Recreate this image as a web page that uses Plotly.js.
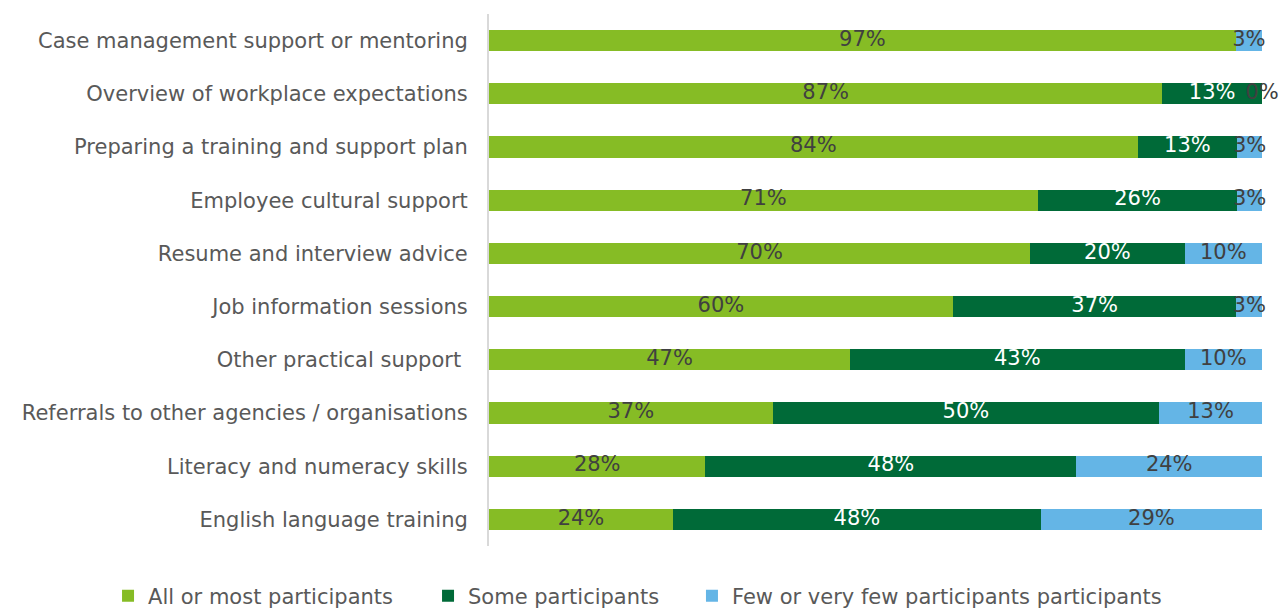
<!DOCTYPE html>
<html>
<head>
<meta charset="utf-8">
<script src="https://cdn.plot.ly/plotly-3.0.1.min.js"></script>
<style>html,body{margin:0;padding:0;background:#fff;}#chart{width:1280px;height:608px;}</style>
</head>
<body>
<div id="chart"></div>
<script>
const categories = [
  "Case management support or mentoring",
  "Overview of workplace expectations",
  "Preparing a training and support plan",
  "Employee cultural support",
  "Resume and interview advice",
  "Job information sessions",
  "Other practical support\u00a0",
  "Referrals to other agencies / organisations",
  "Literacy and numeracy skills",
  "English language training"
];
const seriesNames = ["All or most participants", "Some participants", "Few or very few participants participants"];
const allOrMost = [96.6, 87.1, 83.9, 71.0, 70.0, 60.0, 46.7, 36.7, 28.0, 23.8];
const some      = [0,    12.9, 12.9, 25.8, 20.0, 36.7, 43.3, 50.0, 48.0, 47.6];
const few       = [3.4,  0,    3.2,  3.2,  10.0, 3.3,  10.0, 13.3, 24.0, 28.6];
// labels shown for zero-valued segments (only the light-blue one shows "0%")
const showZeroLabel = [false, false, true];

const colors = ["#86BC25", "#006A38", "#64B5E6"];
const labelColors = ["#404040", "#FFFFFF", "#404040"];
const FONT = "DejaVu Sans, Verdana, sans-serif";
const FS = 21;

const series = [allOrMost, some, few];
const legendIds = ["legend", "legend2", "legend3"];
const traces = [];
series.forEach((vals, i) => {
  traces.push({
    type: "bar", orientation: "h", name: seriesNames[i],
    y: categories, x: vals,
    marker: {color: colors[i], line: {width: 0}},
    hoverinfo: "x+name",
    legend: legendIds[i]
  });
});
// labels centred on each segment, computed from the data through the axis scale
const cum = categories.map(() => 0);
series.forEach((vals, i) => {
  const xs = [], txt = [];
  vals.forEach((v, j) => {
    xs.push(cum[j] + v / 2);
    txt.push(v === 0 && !showZeroLabel[i] ? "" : Math.round(v) + "%");
    cum[j] += v;
  });
  traces.push({
    type: "scatter", mode: "text", x: xs, y: categories, text: txt,
    textposition: "middle center",
    textfont: {family: FONT, size: FS, color: labelColors[i]},
    showlegend: false, hoverinfo: "skip", cliponaxis: false
  });
});

function legendAt(x) {
  return {
    orientation: "h", xref: "container", yref: "container",
    x: x, xanchor: "left", y: 0.0197, yanchor: "middle",
    font: {family: FONT, size: FS, color: "#595959"},
    itemwidth: 30, bgcolor: "rgba(0,0,0,0)"
  };
}

const layout = {
  width: 1280, height: 608,
  margin: {l: 489, r: 18, t: 14, b: 62},
  barmode: "stack", bargap: 0.6,
  paper_bgcolor: "#fff", plot_bgcolor: "#fff",
  font: {family: FONT, size: FS, color: "#595959"},
  xaxis: {range: [0, 100], visible: false, fixedrange: true},
  yaxis: {
    type: "category", autorange: "reversed",
    showline: true, linecolor: "#D9D9D9", linewidth: 2,
    showgrid: false, zeroline: false,
    ticks: "outside", ticklen: 15, tickcolor: "rgba(0,0,0,0)",
    tickfont: {family: FONT, size: FS, color: "#595959"}
  },
  showlegend: true,
  legend: legendAt(0.0844),
  legend2: legendAt(0.3344),
  legend3: legendAt(0.5406)
};
Plotly.newPlot("chart", traces, layout, {displayModeBar: false, staticPlot: true});
</script>
</body>
</html>
